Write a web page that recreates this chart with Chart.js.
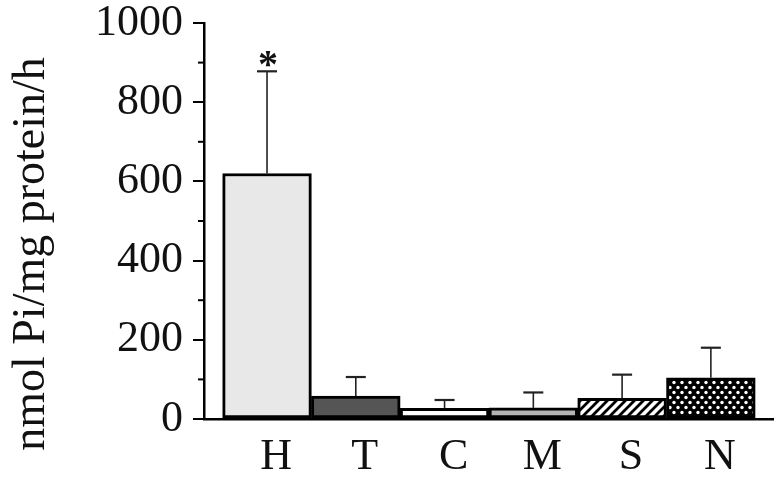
<!DOCTYPE html>
<html>
<head>
<meta charset="utf-8">
<script src="https://cdn.jsdelivr.net/npm/chart.js@4.4.1/dist/chart.umd.min.js"></script>
<style>
  html, body { margin: 0; padding: 0; background: #fff; }
  #wrap { width: 781px; height: 483px; }
</style>
</head>
<body>
<div id="wrap"><canvas id="bar-chart"></canvas></div>
<script>
// values
var categories = ["H", "T", "C", "M", "S", "N"];
var activity = [620, 58, 27, 28, 52, 104];
var sd = [258, 48, 21, 39, 60, 76];
var marks = ["*", "", "", "", "", ""];
var yTicks = [0, 200, 400, 600, 800, 1000];
var yMinorTicks = [100, 300, 500, 700, 900];
var yTitle = "nmol Pi/mg protein/h";

var serif = "'Liberation Serif', 'Times New Roman', serif";
var ctx = document.getElementById("bar-chart").getContext("2d");

// diagonal stripes for S
function hatch() {
    var c = document.createElement("canvas");
    c.width = 9; c.height = 9;
    var g = c.getContext("2d");
    g.fillStyle = "#fff";
    g.fillRect(0, 0, 9, 9);
    g.strokeStyle = "#000";
    g.lineWidth = 2.8;
    g.beginPath();
    g.moveTo(-1, 10); g.lineTo(10, -1);
    g.moveTo(-2, 2); g.lineTo(2, -2);
    g.moveTo(7, 11); g.lineTo(11, 7);
    g.stroke();
    return ctx.createPattern(c, "repeat");
}

// white dots on black for N
function dots() {
    var c = document.createElement("canvas");
    c.width = 8; c.height = 10;
    var g = c.getContext("2d");
    g.fillStyle = "#000";
    g.fillRect(0, 0, 8, 10);
    g.fillStyle = "#fff";
    g.beginPath(); g.arc(2, 2.5, 1.7, 0, Math.PI * 2); g.fill();
    g.beginPath(); g.arc(6, 7.5, 1.7, 0, Math.PI * 2); g.fill();
    return ctx.createPattern(c, "repeat");
}

var fills = ["#e8e8e8", "#555555", "#ffffff", "#b4b4b4", hatch(), dots()];

// whiskers, asterisk, minor ticks and the axis title
var extras = {
    id: "extras",
    afterDatasetsDraw: function (chart) {
        var c = chart.ctx, x = chart.scales.x, y = chart.scales.y;
        c.save();
        c.strokeStyle = "#222";
        activity.forEach(function (v, i) {
            var px = x.getPixelForValue(i);
            var base = y.getPixelForValue(v);
            var top = y.getPixelForValue(v + sd[i]);
            c.lineWidth = 1.6;
            c.beginPath(); c.moveTo(px, base); c.lineTo(px, top); c.stroke();
            c.lineWidth = 2.2;
            c.beginPath(); c.moveTo(px - 10, top); c.lineTo(px + 10, top); c.stroke();
            if (marks[i]) {
                c.font = "bold 40px " + serif;
                c.fillStyle = "#111";
                c.textAlign = "center";
                c.textBaseline = "alphabetic";
                c.fillText(marks[i], px + 1, top + 6);
            }
        });
        c.strokeStyle = "#000";
        c.lineWidth = 2;
        yMinorTicks.forEach(function (t) {
            var py = y.getPixelForValue(t);
            c.beginPath(); c.moveTo(x.left - 6, py); c.lineTo(x.left, py); c.stroke();
        });
        c.translate(44, (chart.chartArea.top + chart.chartArea.bottom) / 2 + 33);
        c.rotate(-Math.PI / 2);
        c.font = "46px " + serif;
        c.fillStyle = "#111";
        c.textAlign = "center";
        c.textBaseline = "alphabetic";
        c.fillText(yTitle, 0, 0);
        c.restore();
    }
};

new Chart(ctx, {
    type: "bar",
    data: {
        datasets: [{
            data: categories.map(function (c, i) { return { x: i, y: activity[i] }; }),
            backgroundColor: fills,
            borderColor: "#000",
            borderWidth: 3,
            borderSkipped: false,
            barPercentage: 1,
            categoryPercentage: 1
        }]
    },
    options: {
        responsive: true,
        maintainAspectRatio: false,
        animation: false,
        layout: { padding: { top: 23, right: 8, left: 0, bottom: 0 } },
        plugins: { legend: { display: false }, tooltip: { enabled: false } },
        scales: {
            x: {
                type: "linear",
                offset: false,
                min: -0.71,
                max: 5.70,
                afterBuildTicks: function (s) {
                    s.ticks = categories.map(function (c, i) { return { value: i }; });
                },
                ticks: {
                    callback: function (v) { return categories[v]; },
                    font: { family: serif, size: 44 },
                    color: "#111",
                    padding: 12,
                    labelOffset: 9,
                    maxRotation: 0,
                    autoSkip: false
                },
                grid: { display: false, drawTicks: false, offset: false },
                border: { display: true, color: "#000", width: 2.5 },
                afterFit: function (s) { s.height = 64; s.paddingLeft = 0; s.paddingRight = 0; }
            },
            y: {
                min: 0,
                max: 1000,
                afterBuildTicks: function (s) {
                    s.ticks = yTicks.map(function (v) { return { value: v }; });
                },
                ticks: {
                    callback: function (v) { return String(v); },
                    font: { family: serif, size: 44 },
                    color: "#111",
                    padding: 10
                },
                grid: { drawOnChartArea: false, drawTicks: true, tickLength: 11, color: "#000", lineWidth: 2 },
                border: { display: true, color: "#000", width: 2.5 },
                afterFit: function (s) { s.width = 204; s.paddingTop = 0; s.paddingBottom = 0; }
            }
        }
    },
    plugins: [extras]
});
</script>
</body>
</html>
